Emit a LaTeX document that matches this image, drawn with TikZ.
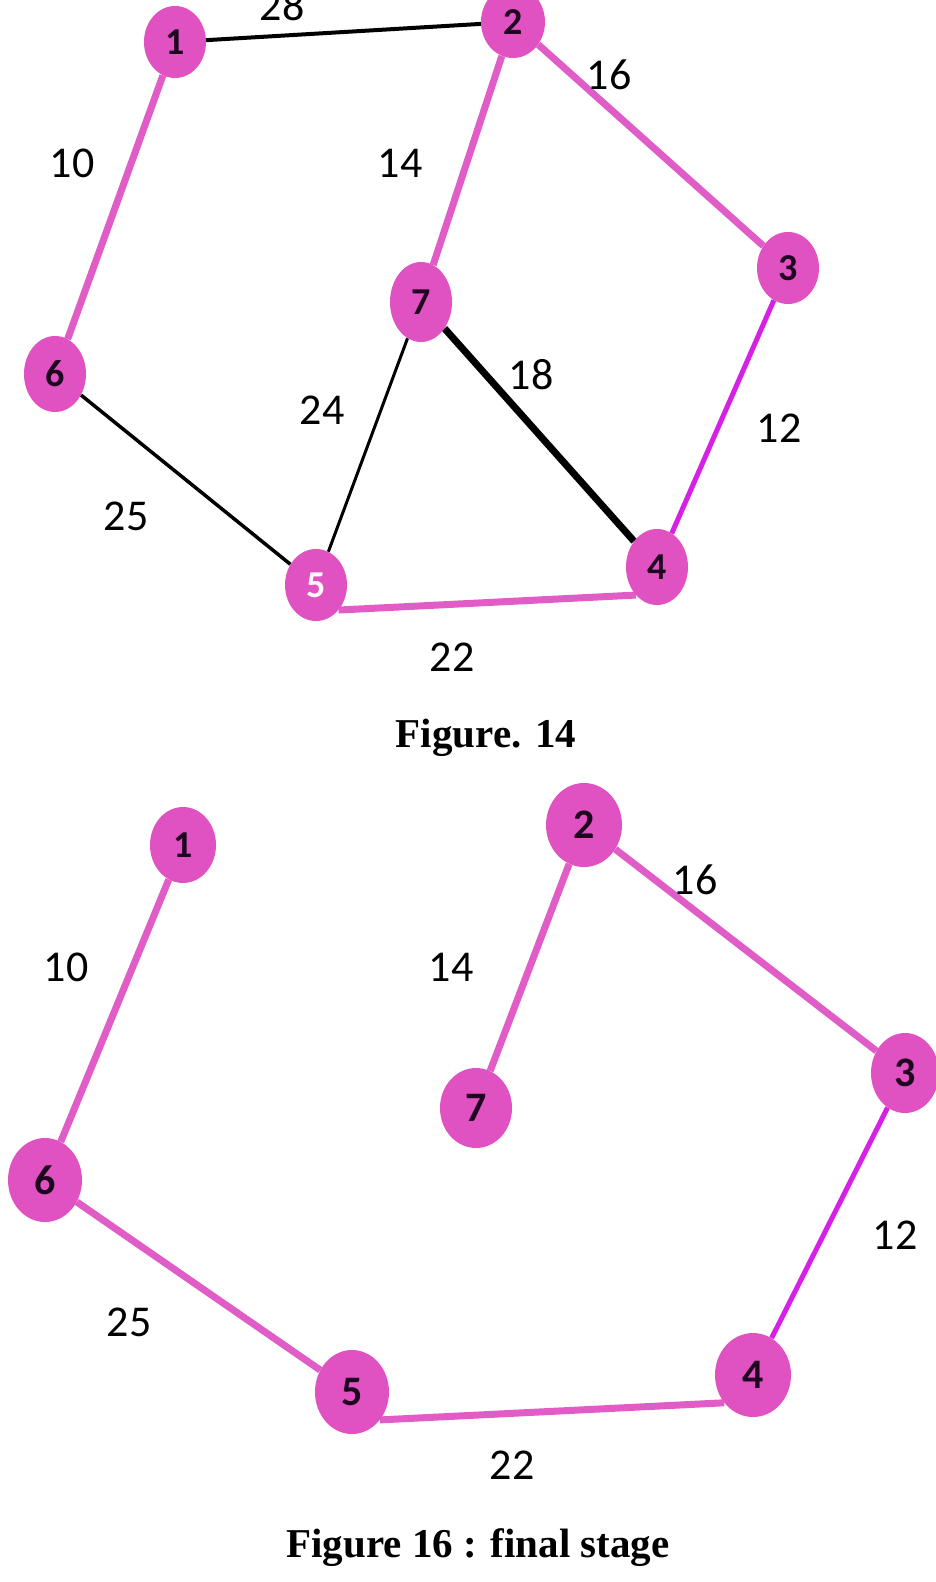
\documentclass[tikz,border=0pt]{standalone}
\usepackage{fontspec}
\setmainfont{Liberation Serif}
\newfontfamily\lblfont{Carlito}
\usetikzlibrary{shapes.geometric,backgrounds}
\definecolor{nodepink}{HTML}{E052C2}
\definecolor{edgepink}{HTML}{E05CC6}
\definecolor{edgemag}{HTML}{D620E6}
\definecolor{numdark}{HTML}{1E0620}
\tikzset{
  vtx/.style={ellipse, fill=nodepink, inner sep=0pt, minimum width=62pt, minimum height=72pt,
    font=\lblfont\bfseries\fontsize{38}{38}\selectfont, text=numdark},
  bigvtx/.style={vtx, minimum width=74pt, minimum height=84pt, font=\lblfont\bfseries\fontsize{42}{42}\selectfont},
  wlabel/.style={font=\lblfont\fontsize{44}{44}\selectfont, text=black, inner sep=0pt},
  caption/.style={font=\bfseries\fontsize{41}{41}\selectfont, inner sep=0pt},
  pinkedge/.style={draw=edgepink, line width=7pt},
  magedge/.style={draw=edgemag, line width=5pt},
  blackedge/.style={draw=black, line width=#1},
}
\begin{document}
\begin{tikzpicture}[x=1pt,y=-1pt]
\useasboundingbox (0,0) rectangle (936,1582);
% ---------- Figure 14 ----------
\node[vtx] (a1) at (175,42) {1};
\node[vtx, minimum width=64pt] (a2) at (513,22) {2};
\node[vtx] (a3) at (788,268) {3};
\node[vtx, minimum height=80pt] (a7) at (421,302) {7};
\node[vtx, minimum height=76pt] (a6) at (55,374) {6};
\node[vtx, text=white!85!pink] (a5) at (316,585) {5};
\node[vtx, minimum height=76pt] (a4) at (657,567) {4};
\begin{scope}[on background layer]
\draw[blackedge=4pt] (a1) -- (a2);
\draw[pinkedge] (a1) -- (a6);
\draw[pinkedge] (a2) -- (a7);
\draw[pinkedge] (a2) -- (a3);
\draw[magedge] (a3) -- (a4);
\draw[blackedge=7pt] (a7) -- (a4);
\draw[blackedge=3pt] (a7) -- (a5);
\draw[blackedge=3.5pt] (a6) -- (a5);
\draw[pinkedge] (a5.-48) -- (a4.-127);
\end{scope}
\node[wlabel] (l28) at (282,6) {28};
\node[wlabel] (l10) at (72,163) {10};
\node[wlabel] (l14) at (400,163) {14};
\node[wlabel] (l16) at (609,75) {16};
\node[wlabel] (l18) at (531,375) {18};
\node[wlabel] (l12) at (779,428) {12};
\node[wlabel] (l24) at (322,410) {24};
\node[wlabel] (l25) at (126,516) {25};
\node[wlabel] (l22) at (452,657) {22};
\node[caption] (cap1) at (486,738) {Figure. 14};
% ---------- Figure 16 ----------
\node[vtx, minimum width=66pt, minimum height=76pt] (b1) at (183,845) {1};
\node[bigvtx, minimum width=76pt] (b2) at (584,825) {2};
\node[bigvtx, minimum width=72pt, minimum height=80pt] (b7) at (476,1108) {7};
\node[bigvtx, minimum width=68pt, minimum height=80pt] (b3) at (905,1073) {3};
\node[bigvtx] (b6) at (45,1180) {6};
\node[bigvtx] (b5) at (352,1392) {5};
\node[bigvtx, minimum width=76pt] (b4) at (753,1375) {4};
\begin{scope}[on background layer]
\draw[pinkedge] (b1) -- (b6);
\draw[pinkedge] (b2) -- (b7);
\draw[pinkedge] (b2) -- (b3);
\draw[magedge] (b3) -- (b4);
\draw[pinkedge] (b6) -- (b5);
\draw[pinkedge] (b5.-45) -- (b4.-136);
\end{scope}
\node[wlabel] (m10) at (66,967) {10};
\node[wlabel] (m14) at (451,967) {14};
\node[wlabel] (m16) at (695,880) {16};
\node[wlabel] (m12) at (895,1235) {12};
\node[wlabel] (m25) at (129,1322) {25};
\node[wlabel] (m22) at (512,1465) {22};
\node[caption] (cap2) at (478,1548) {Figure 16 : final stage};
\end{tikzpicture}
\end{document}
